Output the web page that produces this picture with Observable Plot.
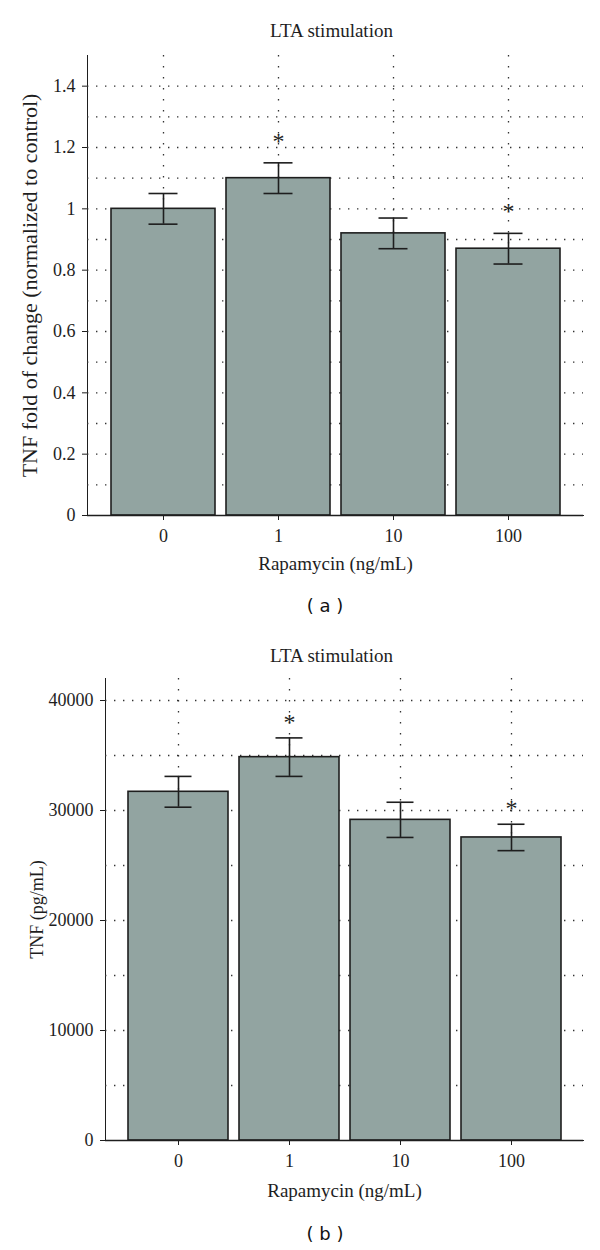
<!DOCTYPE html>
<html>
<head>
<meta charset="utf-8">
<script src="https://cdn.jsdelivr.net/npm/d3@7"></script>
<script src="https://cdn.jsdelivr.net/npm/@observablehq/plot@0.6"></script>
<style>
  html, body { margin: 0; padding: 0; background: #fff; width: 600px; height: 1250px; overflow: hidden; }
  .panel { position: absolute; left: 0; }
  svg text { font-family: "Liberation Serif", "Times New Roman", serif; }
  .cap { position: absolute; left: 0; width: 650px; text-align: center; font-family: "DejaVu Sans", sans-serif; font-size: 18px; color: #111; }
</style>
</head>
<body>
<div id="a" class="panel" style="top:0"></div>
<div class="cap" style="top:595px">( a )</div>
<div id="b" class="panel" style="top:625px"></div>
<div class="cap" style="top:1223px">( b )</div>
<script>
// ---- data ----
const categories = ["0", "1", "10", "100"];
const foldMean = [1.0, 1.1, 0.92, 0.87];
const foldErr = [0.05, 0.05, 0.05, 0.05];
const tnfMean = [31700, 34850, 29150, 27550];
const tnfErr = [1400, 1750, 1600, 1200];
const significant = [false, true, false, true];
const foldTicks = [0, 0.2, 0.4, 0.6, 0.8, 1, 1.2, 1.4];
const foldGrid = [0.1, 0.2, 0.3, 0.4, 0.5, 0.6, 0.7, 0.8, 0.9, 1.0, 1.1, 1.2, 1.3, 1.4];
const tnfTicks = [0, 10000, 20000, 30000, 40000];
const tnfGrid = [5000, 10000, 15000, 20000, 25000, 30000, 35000, 40000];

const FONT = "'Liberation Serif', 'Times New Roman', serif";
const INK = "#1e1e1e";
const BAR = "#92a4a1";

function chart({mean, err, ticks, grid, yMax, yLabel, yLabelSize, mTop, mBottom, mLeft, height, labelDx, titleDx, titleDy, xLabelDy, capInset, starDy}) {
  const data = categories.map((c, i) => ({cat: c, mean: mean[i], lo: mean[i] - err[i], hi: mean[i] + err[i], sig: significant[i]}));
  return Plot.plot({
    width: 600,
    height,
    marginTop: mTop,
    marginBottom: mBottom,
    marginLeft: mLeft,
    marginRight: 17,
    style: {fontFamily: FONT, fontSize: "18px", color: INK, background: "white", overflow: "visible"},
    x: {domain: categories, paddingInner: 0.1, paddingOuter: 0.2, label: null, tickSize: 5, tickPadding: 9, line: true},
    y: {domain: [0, yMax], label: null, ticks, tickFormat: d => String(d), tickSize: 5, tickPadding: 7, line: true},
    marks: [
      Plot.gridY(grid, {stroke: "#333", strokeOpacity: 1, strokeWidth: 1.3, strokeDasharray: "1.4,7.6"}),
      Plot.gridX(categories, {stroke: "#333", strokeOpacity: 1, strokeWidth: 1.3, strokeDasharray: "1.4,9.6"}),
      Plot.barY(data, {x: "cat", y: "mean", fill: BAR, stroke: INK, strokeWidth: 1.6}),
      Plot.ruleX(data, {x: "cat", y1: "lo", y2: "hi", stroke: INK, strokeWidth: 1.6}),
      Plot.tickY(data, {x: "cat", y: "hi", stroke: INK, strokeWidth: 1.6, inset: capInset}),
      Plot.tickY(data, {x: "cat", y: "lo", stroke: INK, strokeWidth: 1.6, inset: capInset}),
      Plot.text(data.filter(d => d.sig), {x: "cat", y: "hi", text: () => "*", fontSize: 24, dy: starDy, fill: INK}),
      Plot.ruleY([0], {stroke: INK, strokeWidth: 1.6}),
      Plot.text(["LTA stimulation"], {frameAnchor: "top-left", dx: titleDx, dy: titleDy, textAnchor: "middle", lineAnchor: "middle", fontSize: 19, fill: INK}),
      Plot.text(["Rapamycin (ng/mL)"], {frameAnchor: "bottom", dy: xLabelDy, textAnchor: "middle", lineAnchor: "middle", fontSize: 19, fill: INK}),
      Plot.text([yLabel], {frameAnchor: "left", dx: labelDx, rotate: -90, textAnchor: "middle", lineAnchor: "middle", fontSize: yLabelSize, fill: INK})
    ]
  });
}

document.getElementById("a").append(chart({
  mean: foldMean, err: foldErr, ticks: foldTicks, grid: foldGrid, yMax: 1.5,
  yLabel: "TNF fold of change (normalized to control)", yLabelSize: 22,
  mTop: 55, mBottom: 75, mLeft: 87, height: 590,
  labelDx: -58, titleDx: 244, titleDy: -25, xLabelDy: 48, capInset: 37.5, starDy: -22
}));
document.getElementById("b").append(chart({
  mean: tnfMean, err: tnfErr, ticks: tnfTicks, grid: tnfGrid, yMax: 42000,
  yLabel: "TNF (pg/mL)", yLabelSize: 18,
  mTop: 53, mBottom: 70, mLeft: 105, height: 585,
  labelDx: -68, titleDx: 226, titleDy: -23, xLabelDy: 50, capInset: 36.5, starDy: -16
}));
</script>
</body>
</html>
